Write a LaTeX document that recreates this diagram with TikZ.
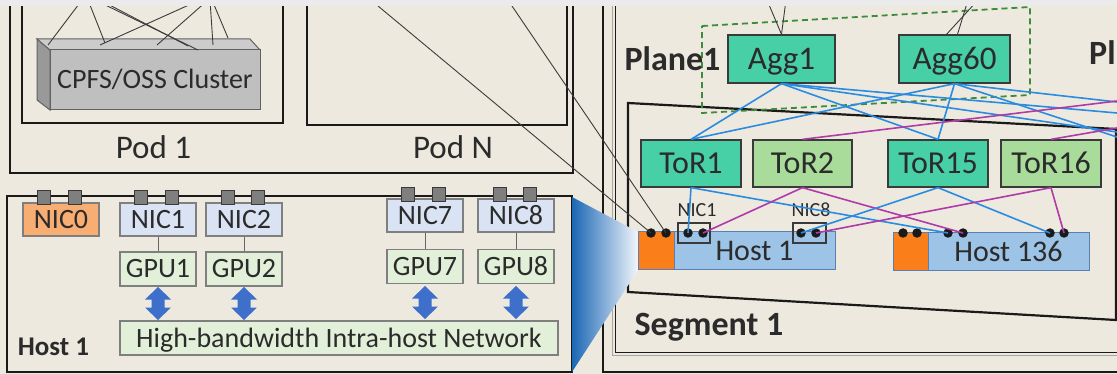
\documentclass[tikz,border=0pt]{standalone}
\usepackage{fontspec}
\setmainfont{Carlito}
\definecolor{bgc}{HTML}{EDE9DF}
\definecolor{stripc}{HTML}{EBEBEB}
\definecolor{framec}{HTML}{1A1A1A}
\definecolor{txtc}{HTML}{2B2B2B}
\definecolor{tealc}{HTML}{47CFA6}
\definecolor{torgreen}{HTML}{A9DC9B}
\definecolor{hostblue}{HTML}{9DC3E6}
\definecolor{hostedge}{HTML}{5A7FB3}
\definecolor{hostorange}{HTML}{FA7F1A}
\definecolor{nicorange}{HTML}{F8AD73}
\definecolor{nicblue}{HTML}{DAE3F3}
\definecolor{gpugreen}{HTML}{E2F0D9}
\definecolor{boxgray}{HTML}{7F7F7F}
\definecolor{boxdark}{HTML}{3A3A3A}
\definecolor{linkblue}{HTML}{2A8CE0}
\definecolor{linkmag}{HTML}{B03AA8}
\definecolor{dashgreen}{HTML}{3C8C3C}
\definecolor{arrowblue}{HTML}{3D6FCB}
\definecolor{trapdark}{HTML}{1B67B5}
\definecolor{traplight}{HTML}{F2F6FB}
\begin{document}
\begin{tikzpicture}[x=1pt,y=-1pt,
  frame/.style={draw=framec, line width=2.2pt},
  conn/.style={draw=framec!85, line width=0.9pt},
  bl/.style={draw=linkblue, line width=1.6pt},
  mg/.style={draw=linkmag, line width=1.6pt},
  lbl/.style={text=txtc, inner sep=0pt, anchor=base},
  agg/.style={draw=boxdark, line width=1.3pt, fill=tealc, minimum height=48pt, inner sep=0pt,
    text height=21.3pt, text depth=0pt, font=\fontsize{33}{35}\selectfont, text=txtc},
  tor/.style={draw=boxdark, line width=1.3pt, fill=tealc, minimum width=100pt, minimum height=47pt, inner sep=0pt,
    text height=20.6pt, text depth=0pt, font=\fontsize{32}{34}\selectfont, text=txtc},
  nic/.style={draw=boxgray, line width=1.3pt, fill=nicblue, minimum width=76pt, minimum height=33pt, inner sep=0pt,
    text height=18pt, text depth=0pt, font=\fontsize{28}{30}\selectfont, text=txtc},
  gpu/.style={nic, fill=gpugreen, minimum height=34pt},
  port/.style={draw=boxdark, fill=boxgray, line width=1pt, minimum width=13pt, minimum height=14pt, inner sep=0pt},
  hostpart/.style={draw=hostedge, line width=1pt, fill=hostblue, minimum height=38pt, inner sep=0pt,
    text height=19.4pt, text depth=0pt, font=\fontsize{30}{32}\selectfont, text=txtc},
  dot/.style={circle, fill=framec, minimum size=9.5pt, inner sep=0pt},
  udarrow/.pic={\fill[arrowblue] (0,-16.5) -- (13,-4) -- (6.5,-4) -- (6.5,4) -- (13,4) -- (0,16.5)
     -- (-13,4) -- (-6.5,4) -- (-6.5,-4) -- (-13,-4) -- cycle;}
]
\useasboundingbox (0,0) rectangle (1117,374);
\fill[bgc] (0,0) rectangle (1117,374);

% ---------------- left pods ----------------
\draw[frame] (10,-5) -- (10,173) -- (573,173) -- (573,-5);
\draw[frame] (22,-5) -- (22,123) -- (283,123) -- (283,-5);
\draw[frame] (307,-5) -- (307,125) -- (567,125) -- (567,-5);
\node[lbl, font=\fontsize{33}{35}\selectfont] (pod1) at (153.5,159) {Pod 1};
\node[lbl, font=\fontsize{33}{35}\selectfont] (podn) at (453,159) {Pod N};

% CPFS cluster (3D box)
\fill[gray!80, draw=boxdark!80, line width=1pt] (37,39) -- (50,50) -- (50,110) -- (37,100) -- cycle;
\fill[gray!40, draw=boxdark!80, line width=1pt] (37,39) -- (250,39) -- (260,50) -- (50,50) -- cycle;
\node[draw=boxdark!80, line width=1pt, fill=gray!50, minimum width=210pt, minimum height=60pt, inner sep=0pt,
  text height=18pt, text depth=0pt, font=\fontsize{28}{30}\selectfont, text=txtc] (cpfs) at (155,80) {CPFS/OSS Cluster};
\foreach \n/\sx/\ex/\ey in {a/82/48/45, b/88/105/43, c/95/198/50, d/100/188/46, e/200/100/45, f/208/157/45, g/210/213/45, h/212/228/38}{
  \coordinate (cs\n) at (\sx,0);
  \coordinate (ce\n) at (\ex,\ey);
  \draw[conn] (cs\n) -- (ce\n);
}

% ---------------- host detail box ----------------
\draw[frame, fill=bgc] (7,196) rectangle (572,372);
\node[nic, fill=nicorange] (nic0) at (61,219.5) {NIC0};
\node[nic] (nic1) at (158,219.5) {NIC1};
\node[nic] (nic2) at (244,219.5) {NIC2};
\node[nic] (nic7) at (425,215.5) {NIC7};
\node[nic] (nic8) at (516,215.5) {NIC8};
\node[port] (p0a) at (44,198) {};
\node[port] (p0b) at (75,198) {};
\node[port] (p1a) at (141,198) {};
\node[port] (p1b) at (172,198) {};
\node[port] (p2a) at (228,198) {};
\node[port] (p2b) at (258,198) {};
\node[port] (p7a) at (408,195) {};
\node[port] (p7b) at (439,195) {};
\node[port] (p8a) at (500,195) {};
\node[port] (p8b) at (530,195) {};
\node[gpu] (gpu1) at (158,269) {GPU1};
\node[gpu] (gpu2) at (244,269) {GPU2};
\node[gpu] (gpu7) at (425,266.5) {GPU7};
\node[gpu] (gpu8) at (516,266.5) {GPU8};
\foreach \i in {1,2,7,8}{ \draw[draw=boxgray!80!black, line width=1pt] (nic\i.south) -- (gpu\i.north); }
\node[gpu, minimum width=438pt] (bar) at (339,338) {High-bandwidth Intra-host Network};
\pic at (158,303.5) {udarrow};
\pic at (244,303.5) {udarrow};
\pic at (425,302.5) {udarrow};
\pic at (516,302.5) {udarrow};
\node[lbl, font=\bfseries\fontsize{27}{29}\selectfont] (hostlbl) at (53.5,355) {Host 1};

% ---------------- right side frames ----------------
\draw[frame] (603,-5) -- (603,372) -- (1125,372);
\draw[draw=gray!70, line width=1.5pt] (612.5,-5) -- (612.5,355.5) -- (1125,355.5);
\draw[frame, line width=1.8pt] (615.5,-5) -- (615.5,352.5) -- (1125,352.5);
\draw[frame] (628,103) -- (1116,129) -- (1116,320) -- (628,292) -- cycle;
\node[lbl, font=\bfseries\fontsize{34}{36}\selectfont] (seglbl) at (709,335) {Segment 1};

% zoom trapezoid
\shade[left color=trapdark, right color=traplight] (572,197) -- (638,232) -- (638,270) -- (572,372) -- cycle;

% plane
\draw[draw=dashgreen, line width=1.8pt, dash pattern=on 6pt off 4pt] (702,26) -- (1030,7) -- (1030,95) -- (702,113) -- cycle;
\node[lbl, font=\bfseries\fontsize{34}{36}\selectfont] (plane1) at (672.5,71) {Plane1};
\node[lbl, anchor=base west, font=\bfseries\fontsize{34}{36}\selectfont] (plane2) at (1089,65) {Pl};

% aggs and tors
\node[agg, minimum width=107pt] (agg1) at (781.5,59) {Agg1};
\node[agg, minimum width=111pt] (agg60) at (954.5,59) {Agg60};
\node[tor] (tor1) at (691,163.5) {ToR1};
\node[tor, fill=torgreen, minimum width=99pt] (tor2) at (802.5,163.5) {ToR2};
\node[tor] (tor15) at (938,163.5) {ToR15};
\node[tor, fill=torgreen] (tor16) at (1051,163.5) {ToR16};

% upward links into aggs
\coordinate (ua1) at (767,0); \coordinate (ua2) at (786,0);
\coordinate (ub1) at (978,0); \coordinate (ub2) at (968,0);
\draw[conn] (ua1) -- (agg1.north); \draw[conn] (ua2) -- (agg1.north);
\draw[conn] (ub1) -- ([xshift=-8pt]agg60.north); \draw[conn] (ub2) -- ([xshift=3pt]agg60.north);

% hosts in segment
\node[hostpart, fill=hostorange, minimum width=36pt] (h1o) at (656,251) {};
\node[hostpart, minimum width=161pt] (h1) at (754.5,251) {Host 1};
\node[hostpart, fill=hostorange, minimum width=35pt] (h136o) at (910.5,252) {};
\node[hostpart, minimum width=161pt] (h136) at (1008.5,252) {Host 136};

% links
\coordinate (ra) at (1117,113); \coordinate (rb) at (1117,132);
\coordinate (rc) at (1117,102); \coordinate (rd) at (1117,137);
\coordinate (re) at (1117,101); \coordinate (rf) at (1117,128);
\draw[bl] (agg1.south) -- (tor1.north);
\draw[bl] (agg1.south) -- (tor15.north);
\draw[bl] (agg1.south) -- (ra);
\draw[bl] (agg1.south) -- (rb);
\draw[bl] (agg60.south) -- (tor1.north);
\draw[bl] (agg60.south) -- (tor15.north);
\draw[bl] (agg60.south) -- (rc);
\draw[bl] (agg60.south) -- (rd);
\draw[mg] (tor2.north) -- (re);
\draw[mg] (tor16.north) -- (rf);

% NIC boxes on host 1
\node[draw=boxdark, line width=1.2pt, minimum width=32pt, minimum height=20pt, inner sep=0pt] (n1box) at (694,233) {};
\node[draw=boxdark, line width=1.2pt, minimum width=33pt, minimum height=20pt, inner sep=0pt] (n8box) at (809.5,233) {};
\node[lbl, font=\fontsize{20}{22}\selectfont] (n1lbl) at (697,217) {NIC1};
\node[lbl, font=\fontsize{20}{22}\selectfont] (n8lbl) at (811,217) {NIC8};

% dots
\foreach \n/\x in {1/651, 2/666, 3/688, 4/703, 5/801, 6/816}{ \node[dot] (ha\n) at (\x,233) {}; }
\foreach \n/\x in {1/903, 2/917, 3/948, 4/963, 5/1050, 6/1064}{ \node[dot] (hb\n) at (\x,233) {}; }

% tor to host links
\draw[bl] (tor1.south) -- (ha3.center);
\draw[bl] (tor1.south) -- (hb3.center);
\draw[mg] (tor2.south) -- (ha4.center);
\draw[mg] (tor2.south) -- (hb4.center);
\draw[bl] (tor15.south) -- (ha5.center);
\draw[bl] (tor15.south) -- (hb5.center);
\draw[mg] (tor16.south) -- (ha6.center);
\draw[mg] (tor16.south) -- (hb6.center);

% pod N to host 1 links
\coordinate (pn1) at (378,6); \coordinate (pn2) at (512,6);
\draw[conn] (pn1) -- (ha1.center);
\draw[conn] (pn2) -- (ha2.center);

% top strip
\fill[stripc] (0,0) rectangle (1117,6);
\end{tikzpicture}
\end{document}
